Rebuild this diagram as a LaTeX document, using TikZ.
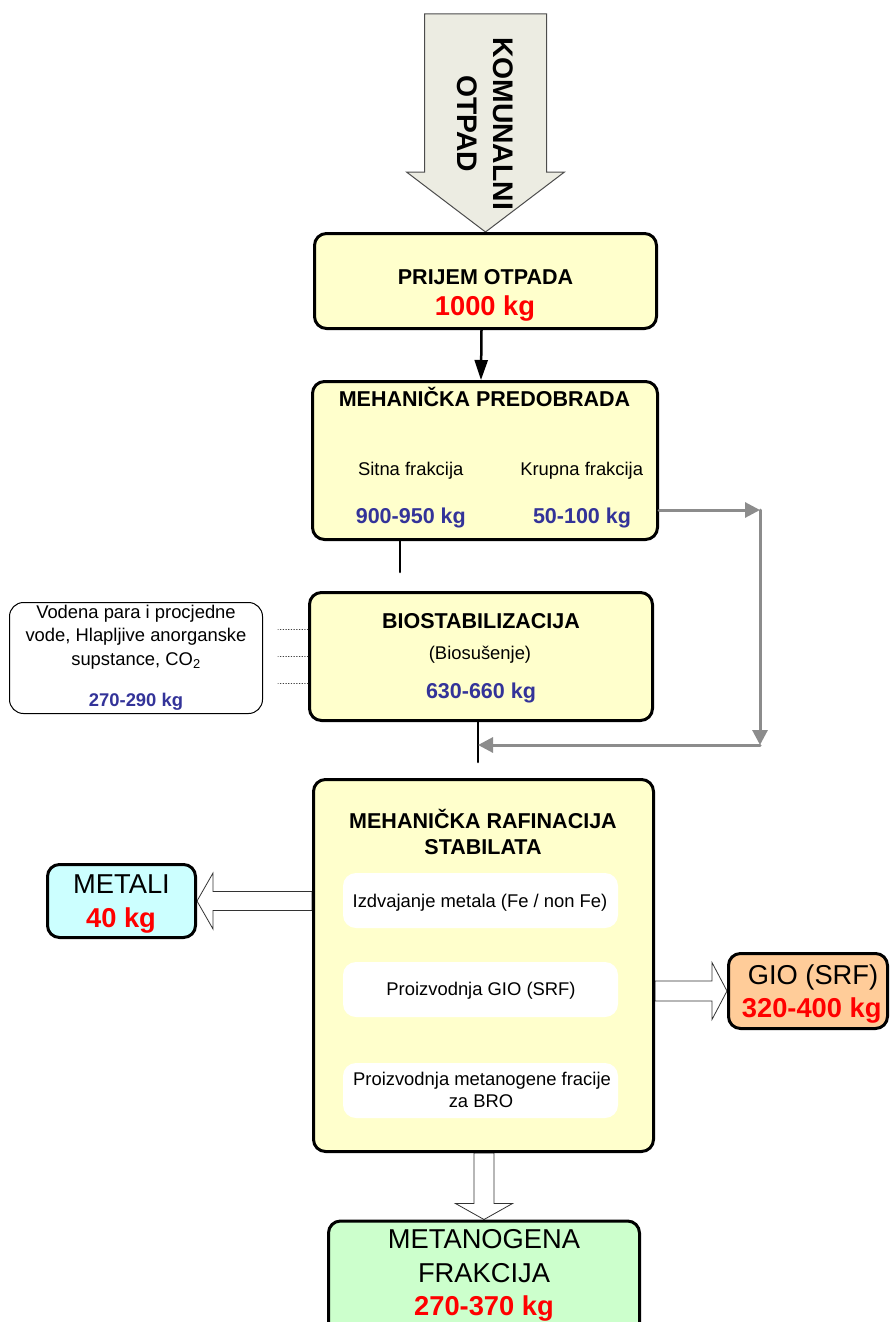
\documentclass[tikz,border=0pt]{standalone}
\usepackage{fontspec}
\setmainfont{Liberation Sans}
\usetikzlibrary{arrows.meta,calc,backgrounds}
\definecolor{boxyellow}{RGB}{255,255,204}
\definecolor{metalcyan}{RGB}{204,255,255}
\definecolor{gioorange}{RGB}{255,204,153}
\definecolor{metgreen}{RGB}{204,255,204}
\definecolor{kgblue}{RGB}{51,51,153}
\definecolor{loopgray}{RGB}{140,140,140}
\definecolor{inputfill}{RGB}{236,236,226}
\begin{document}
\begin{tikzpicture}[x=1pt, y=-1pt, line join = round, line cap = round,
  box/.style={draw, line width=3pt, rounded corners=12pt, fill=boxyellow, inner sep=0pt},
  subbox/.style={fill=white, rounded corners=13pt, minimum width=275pt, minimum height=55pt, inner sep=0pt},
  ttl/.style={font=\fontsize{21.5}{25}\selectfont\bfseries, anchor=base, inner sep=0pt},
  txt/.style={font=\fontsize{18.4}{22}\selectfont, anchor=base, inner sep=0pt},
  kg/.style={font=\fontsize{21.5}{25}\selectfont\bfseries, text=kgblue, anchor=base, inner sep=0pt},
  big/.style={font=\fontsize{27.3}{32}\selectfont, anchor=base, inner sep=0pt},
  bigkg/.style={font=\fontsize{27.3}{32}\selectfont\bfseries, text=red, anchor=base, inner sep=0pt},
  flow/.style={line width=2.5pt},
  loopback/.style={line width=3pt, draw=loopgray, -{Triangle[length=15pt,width=15pt]}},
  hollow/.style={draw=black!80, line width=0.8pt, fill=white},
  dotline/.style={dotted, line width=0.7pt, draw=black!75}]
\useasboundingbox (0,0) rectangle (891,1322);

\coordinate (r1) at (760,510);
\coordinate (r2) at (760,745);
\coordinate (j) at (478,745);

\node[box, minimum width=342pt, minimum height=95pt] (prijem) at (485.5,281) {};
\node[box, minimum width=345pt, minimum height=158pt] (predob) at (485,460.5) {};
\node[box, minimum width=343pt, minimum height=128pt] (biostab) at (481,656.5) {};
\node[box, minimum width=340pt, minimum height=372pt] (raf) at (483.5,965.5) {};
\node[draw, line width=1pt, rounded corners=14pt, fill=white, minimum width=253pt, minimum height=111pt] (emisije) at (136,658) {};
\node[box, fill=metalcyan, minimum width=148pt, minimum height=73pt] (metali) at (121.5,901) {};
\node[box, fill=gioorange, minimum width=159pt, minimum height=75pt] (gio) at (808,991) {};
\node[box, fill=metgreen, minimum width=311pt, minimum height=118pt] (metan) at (484,1280) {};

\node[subbox] (izdv) at (480.5,900.5) {};
\node[subbox] (proizgio) at (480.5,989.5) {};
\node[subbox] (proizmet) at (480.5,1090.5) {};

\begin{scope}[on background layer]
  \draw[draw=black!70, line width=1pt, fill=inputfill] (prijem.north) -- ++(-79,-60) -- ++(18,0) -- ++(0,-158) -- ++(122,0) -- ++(0,158) -- ++(18,0) -- cycle;
  \draw[hollow] (metali.east) -- ++(16,-28) -- ++(0,18.5) -- ($(metali.east -| raf.west)+(0,-9.5)$) -- ++(0,19) -- ($(metali.east)+(16,9.5)$) -- ++(0,18.5) -- cycle;
  \draw[hollow] (gio.west) -- ++(-15,-28.5) -- ++(0,18.5) -- ($(gio.west -| raf.east)+(0,-10)$) -- ++(0,20) -- ($(gio.west)+(-15,10)$) -- ++(0,18.5) -- cycle;
  \draw[hollow] (metan.north) -- ++(-28.5,-16) -- ++(18.5,0) -- ($(metan.north |- raf.south)+(-10,0)$) -- ++(20,0) -- ($(metan.north)+(10,-16)$) -- ++(18.5,0) -- cycle;
\end{scope}

\node[font=\fontsize{28.3}{32}\selectfont\bfseries, rotate=-90, inner sep=0pt] (komunalni) at (503,123.5) {KOMUNALNI};
\node[font=\fontsize{28.3}{32}\selectfont\bfseries, rotate=-90, inner sep=0pt] (otpad) at (467.5,123.5) {OTPAD};

\draw[flow, -{Triangle[length=20pt,width=13pt]}] ([xshift=-4pt]prijem.south) -- ([xshift=-4pt]predob.north);
\draw[flow] ([xshift=-85pt]predob.south) -- ++(0,31);
\draw[flow] ([xshift=-3pt]biostab.south) -- ++(0,40);

\draw[loopback] (predob.east |- r1) -- (r1);
\draw[loopback] (r1) -- (r2);
\draw[loopback] (r2) -- (j);

\foreach \dy in {-27,0,27}
  \draw[dotline] ([yshift=\dy pt]biostab.west) -- ++(-30,0);

\node[ttl] (tprijem) at (485.5,284) {PRIJEM OTPADA};
\node[bigkg] (kgprijem) at (485,315) {1000 kg};

\node[ttl] (tpredob) at (484.5,406.5) {MEHANIČKA PREDOBRADA};
\node[txt] (sitna) at (410.7,475) {Sitna frakcija};
\node[txt] (krupna) at (581.7,475) {Krupna frakcija};
\node[kg] (kgsitna) at (410.8,523) {900-950 kg};
\node[kg] (kgkrupna) at (582,523) {50-100 kg};

\node[ttl] (tbiostab) at (481,628) {BIOSTABILIZACIJA};
\node[txt] (biosus) at (480,659) {(Biosušenje)};
\node[kg] (kgbiostab) at (481,698) {630-660 kg};

\node[txt] (em1) at (136,618) {Vodena para i procjedne};
\node[txt] (em2) at (136,641.5) {vode, Hlapljive anorganske};
\node[txt] (em3) at (136,665) {supstance, CO\textsubscript{2}};
\node[kg, font=\fontsize{18.4}{22}\selectfont\bfseries] (kgem) at (136,706.5) {270-290 kg};

\node[ttl] (traf1) at (483,828) {MEHANIČKA RAFINACIJA};
\node[ttl] (traf2) at (483,854) {STABILATA};
\node[txt] (tizdv) at (480,907) {Izdvajanje metala (Fe / non Fe)};
\node[txt] (tproizgio) at (481,995) {Proizvodnja GIO (SRF)};
\node[txt] (tproizmet1) at (482,1085) {Proizvodnja metanogene fracije};
\node[txt] (tproizmet2) at (481,1107) {za BRO};

\node[big] (tmetali) at (121.5,893) {METALI};
\node[bigkg] (kgmetali) at (121,927) {40 kg};
\node[big] (tgio) at (813,984) {GIO (SRF)};
\node[bigkg] (kggio) at (811.7,1017) {320-400 kg};
\node[big] (tmetan1) at (484,1248) {METANOGENA};
\node[big] (tmetan2) at (484,1282) {FRAKCIJA};
\node[bigkg] (kgmetan) at (484,1315) {270-370 kg};
\end{tikzpicture}
\end{document}
